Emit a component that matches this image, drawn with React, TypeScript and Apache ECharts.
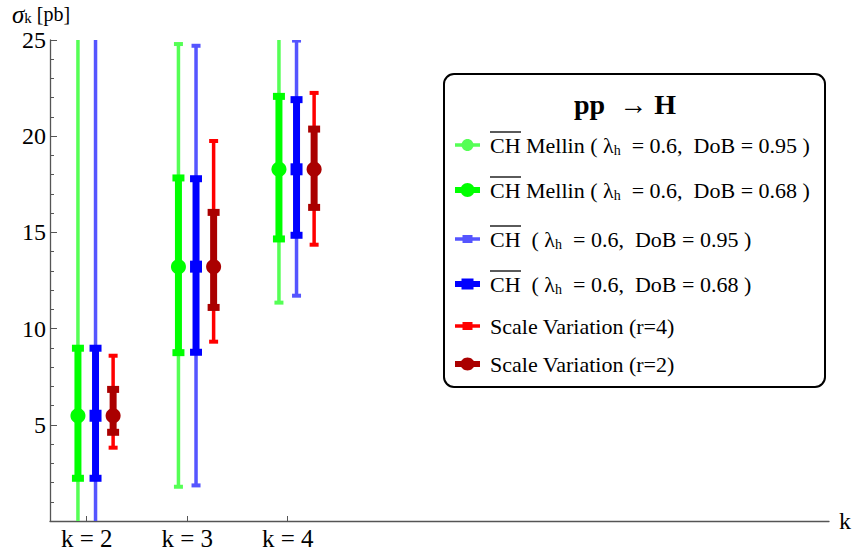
import React, { useEffect, useRef } from 'react';
import * as echarts from 'echarts';

// ---- data ----
const kValues = [2, 3, 4];
const xTickLabels = ['k = 2', 'k = 3', 'k = 4'];
const yTickValues = [5, 10, 15, 20, 25];
const centralValues = [5.47, 13.22, 18.28];

const mellin95Low = [-2.5, 1.78, 11.35];
const mellin95High = [28.5, 24.79, 25.6];
const mellin68Low = [2.22, 8.75, 14.66];
const mellin68High = [8.98, 17.83, 22.07];
const ch95Low = [-2.5, 1.85, 11.71];
const ch95High = [28.5, 24.7, 24.97];
const ch68Low = [2.22, 8.77, 14.85];
const ch68High = [8.98, 17.79, 21.9];
const scaleR4Low = [3.81, 9.32, 14.36];
const scaleR4High = [8.59, 19.75, 22.25];
const scaleR2Low = [4.61, 11.1, 16.3];
const scaleR2High = [6.84, 16.04, 20.37];

const Y_MIN = 0;
const Y_MAX = 25;
const SERIF = "'Liberation Serif', 'Times New Roman', serif";

type Def = {
  name: string;
  legend: string;
  overline: boolean;
  low: number[];
  high: number[];
  color: string;
  offset: number;
  lw: number;
  capW: number;
  capH: number;
  marker: 'circle' | 'square';
  markerSize: number;
  legendLw: number;
  legendMarkerW: number;
  legendMarkerH: number;
  legendY: number;
};

const defs: Def[] = [
  {
    name: 'CH Mellin (λh = 0.6, DoB = 0.95)',
    legend: '{o|CH} Mellin ( λ{s|h}  = 0.6,  DoB = 0.95 )',
    overline: true,
    low: mellin95Low, high: mellin95High, color: '#55ff55', offset: -0.087,
    lw: 3.5, capW: 9, capH: 4, marker: 'circle', markerSize: 10,
    legendLw: 3.5, legendMarkerW: 12, legendMarkerH: 12, legendY: 145,
  },
  {
    name: 'CH Mellin (λh = 0.6, DoB = 0.68)',
    legend: '{o|CH} Mellin ( λ{s|h}  = 0.6,  DoB = 0.68 )',
    overline: true,
    low: mellin68Low, high: mellin68High, color: '#00ff00', offset: -0.087,
    lw: 7, capW: 12, capH: 7, marker: 'circle', markerSize: 15,
    legendLw: 6, legendMarkerW: 14, legendMarkerH: 14, legendY: 190,
  },
  {
    name: 'CH (λh = 0.6, DoB = 0.95)',
    legend: '{o|CH}  ( λ{s|h}  = 0.6,  DoB = 0.95 )',
    overline: true,
    low: ch95Low, high: ch95High, color: '#5555ff', offset: 0.088,
    lw: 3.5, capW: 9, capH: 4, marker: 'square', markerSize: 9,
    legendLw: 3.5, legendMarkerW: 10, legendMarkerH: 8, legendY: 239,
  },
  {
    name: 'CH (λh = 0.6, DoB = 0.68)',
    legend: '{o|CH}  ( λ{s|h}  = 0.6,  DoB = 0.68 )',
    overline: true,
    low: ch68Low, high: ch68High, color: '#0000ff', offset: 0.088,
    lw: 7, capW: 12, capH: 7, marker: 'square', markerSize: 12,
    legendLw: 6, legendMarkerW: 12, legendMarkerH: 11, legendY: 284,
  },
  {
    name: 'Scale Variation (r=4)',
    legend: 'Scale Variation (r=4)',
    overline: false,
    low: scaleR4Low, high: scaleR4High, color: '#ff0000', offset: 0.263,
    lw: 3.5, capW: 9, capH: 4, marker: 'square', markerSize: 9,
    legendLw: 3.5, legendMarkerW: 10, legendMarkerH: 8, legendY: 326,
  },
  {
    name: 'Scale Variation (r=2)',
    legend: 'Scale Variation (r=2)',
    overline: false,
    low: scaleR2Low, high: scaleR2High, color: '#aa0000', offset: 0.263,
    lw: 7, capW: 12, capH: 7, marker: 'circle', markerSize: 15,
    legendLw: 6, legendMarkerW: 14, legendMarkerH: 13, legendY: 364,
  },
];

function markerShape(kind: 'circle' | 'square', cx: number, cy: number, w: number, h: number, color: string) {
  if (kind === 'circle') {
    return { type: 'ellipse', shape: { cx, cy, rx: w / 2, ry: h / 2 }, style: { fill: color } };
  }
  return { type: 'rect', shape: { x: cx - w / 2, y: cy - h / 2, width: w, height: h }, style: { fill: color } };
}

function makeRenderItem(def: Def) {
  return (params: any, api: any) => {
    const x = api.value(0) + def.offset;
    const lo = api.value(1);
    const hi = api.value(2);
    const c = api.value(3);
    const pLo = api.coord([x, Math.max(lo, Y_MIN)]);
    const pHi = api.coord([x, Math.min(hi, Y_MAX)]);
    const pC = api.coord([x, c]);
    const children: any[] = [
      {
        type: 'line',
        shape: { x1: pLo[0], y1: pLo[1], x2: pHi[0], y2: pHi[1] },
        style: { stroke: def.color, lineWidth: def.lw },
      },
    ];
    if (lo >= Y_MIN) {
      children.push({
        type: 'rect',
        shape: { x: pLo[0] - def.capW / 2, y: pLo[1] - def.capH / 2, width: def.capW, height: def.capH },
        style: { fill: def.color },
      });
    }
    if (hi <= Y_MAX) {
      children.push({
        type: 'rect',
        shape: { x: pHi[0] - def.capW / 2, y: pHi[1] - def.capH / 2, width: def.capW, height: def.capH },
        style: { fill: def.color },
      });
    }
    children.push(markerShape(def.marker, pC[0], pC[1], def.markerSize, def.markerSize, def.color));
    return { type: 'group', children };
  };
}

function buildLegend(): any[] {
  const els: any[] = [
    {
      type: 'rect',
      shape: { x: 444, y: 74, width: 381, height: 313, r: 10 },
      style: { fill: '#ffffff', stroke: '#000000', lineWidth: 2 },
      z: 10,
    },
    {
      type: 'text',
      x: 625,
      y: 104,
      style: {
        text: 'pp  → H',
        fontFamily: SERIF,
        fontSize: 28,
        fontWeight: 'bold',
        fill: '#000',
        align: 'center',
        verticalAlign: 'middle',
      },
      z: 11,
    },
  ];
  defs.forEach((d) => {
    const y = d.legendY;
    els.push({
      type: 'line',
      shape: { x1: 455, y1: y, x2: 480, y2: y },
      style: { stroke: d.color, lineWidth: d.legendLw },
      z: 11,
    });
    els.push({ ...markerShape(d.marker, 467.5, y, d.legendMarkerW, d.legendMarkerH, d.color), z: 11 });
    els.push({
      type: 'text',
      x: 490,
      y,
      style: {
        text: d.legend,
        fontFamily: SERIF,
        fontSize: 22,
        fill: '#000',
        verticalAlign: 'middle',
        lineHeight: 24,
        rich: {
          o: { fontFamily: SERIF, fontSize: 22, lineHeight: 24, fill: '#000' },
          s: { fontFamily: SERIF, fontSize: 14, lineHeight: 10, verticalAlign: 'bottom', fill: '#000' },
        },
      },
      z: 11,
    });
    if (d.overline) {
      els.push({
        type: 'line',
        shape: { x1: 490, y1: y - 13, x2: 521, y2: y - 13 },
        style: { stroke: '#000', lineWidth: 1.3 },
        z: 11,
      });
    }
  });
  // y axis name
  els.push({
    type: 'text',
    x: 12,
    y: 14,
    style: {
      text: '{s|σ}{k|k} [pb]',
      fontFamily: SERIF,
      fontSize: 20,
      fill: '#000',
      verticalAlign: 'middle',
      lineHeight: 22,
      rich: {
        s: { fontFamily: SERIF, fontSize: 25, fontStyle: 'italic', lineHeight: 22, fill: '#000' },
        k: { fontFamily: SERIF, fontSize: 15, lineHeight: 12, verticalAlign: 'bottom', fill: '#000' },
      },
    },
  });
  return els;
}

export default function App() {
  const ref = useRef<HTMLDivElement>(null);
  useEffect(() => {
    if (!ref.current) return;
    const chart = echarts.init(ref.current, undefined, { renderer: 'svg' });
    const axisColor = '#555555';
    const option: any = {
      animation: false,
      backgroundColor: '#ffffff',
      grid: { left: 50, right: 28, top: 40, bottom: 38, containLabel: false, outerBoundsMode: 'none' },
      xAxis: {
        type: 'value',
        min: 1.635,
        max: 9.386,
        name: 'k',
        nameLocation: 'end',
        nameGap: 10,
        nameTextStyle: { fontFamily: SERIF, fontSize: 24, color: '#000', verticalAlign: 'middle' },
        axisLine: { show: true, lineStyle: { color: axisColor, width: 1.3 } },
        axisTick: { show: true, inside: true, length: 5, customValues: kValues, lineStyle: { color: axisColor, width: 1 } },
        axisLabel: {
          show: true,
          customValues: kValues,
          formatter: (v: number) => xTickLabels[kValues.indexOf(Math.round(v))] ?? '',
          fontFamily: SERIF,
          fontSize: 25,
          color: '#000',
          margin: 5,
        },
        splitLine: { show: false },
      },
      yAxis: {
        type: 'value',
        min: Y_MIN,
        max: Y_MAX,
        interval: 5,
        axisLine: { show: true, lineStyle: { color: axisColor, width: 1.3 } },
        axisTick: { show: true, inside: true, length: 7, lineStyle: { color: axisColor, width: 1 } },
        minorTick: { show: true, splitNumber: 5, length: 4, lineStyle: { color: axisColor, width: 1 } },
        axisLabel: {
          show: true,
          customValues: yTickValues,
          fontFamily: SERIF,
          fontSize: 24,
          color: '#000',
          margin: 4,
        },
        splitLine: { show: false },
        minorSplitLine: { show: false },
      },
      series: defs.map((d) => ({
        type: 'custom',
        name: d.name,
        clip: true,
        renderItem: makeRenderItem(d),
        encode: { x: 0, y: [1, 2, 3] },
        data: kValues.map((k, i) => [k, d.low[i], d.high[i], centralValues[i]]),
      })),
      graphic: buildLegend(),
    };
    chart.setOption(option);
    return () => chart.dispose();
  }, []);
  return (
    <div
      ref={ref}
      style={{ position: 'absolute', left: 0, top: 0, width: 857, height: 559, background: '#fff' }}
    />
  );
}
